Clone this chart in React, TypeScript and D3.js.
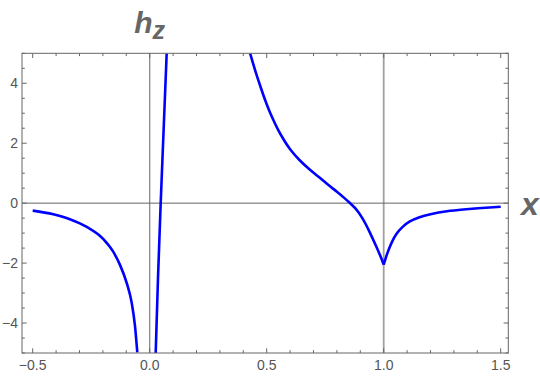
import React from "react";
import * as d3 from "d3";

// ---- data ----
const leftX = [-0.5, -0.412, -0.341, -0.269, -0.198, -0.156, -0.127, -0.098, -0.077, -0.063, -0.053];
const leftY = [-0.25, -0.373, -0.536, -0.795, -1.2, -1.62, -2.06, -2.67, -3.32, -4.09, -4.98];

const midX = [0.0256, 0.0355, 0.047, 0.0598, 0.0726];
const midY = [-5, -2.5, 0, 2.5, 5];

const rightAX = [0.429, 0.45, 0.475, 0.5, 0.525, 0.55, 0.575, 0.6, 0.64, 0.68, 0.72, 0.76, 0.8, 0.83, 0.855, 0.88, 0.91, 0.94, 0.965, 0.985, 1.0];
const rightAY = [5, 4.45, 3.85, 3.3, 2.83, 2.43, 2.09, 1.8, 1.44, 1.15, 0.89, 0.63, 0.38, 0.185, 0.01, -0.185, -0.515, -0.965, -1.39, -1.75, -2.05];

const rightBX = [1.0, 1.01, 1.02, 1.035, 1.055, 1.08, 1.11, 1.15, 1.2, 1.27, 1.34, 1.42, 1.5];
const rightBY = [-2.05, -1.8, -1.58, -1.3, -1.02, -0.8, -0.62, -0.48, -0.37, -0.27, -0.21, -0.16, -0.12];

const xMajor = [-0.5, 0, 0.5, 1, 1.5];
const xLabels = ["\u22120.5", "0.0", "0.5", "1.0", "1.5"];
const yMajor = [-4, -2, 0, 2, 4];
const yLabels = ["\u22124", "\u22122", "0", "2", "4"];
const vLines = [0, 1];

const W = 540;
const H = 376;
const plot = { left: 22, right: 508.3, top: 53.3, bottom: 353 };

export default function App() {
  const x = d3.scaleLinear().domain([-0.5457, 1.5325]).range([plot.left, plot.right]);
  const y = d3.scaleLinear().domain([-5, 5]).range([plot.bottom, plot.top]);

  const mkLine = (curve: d3.CurveFactory) =>
    d3
      .line<[number, number]>()
      .x((d) => x(d[0]))
      .y((d) => y(d[1]))
      .curve(curve);

  const seg = (xs: number[], ys: number[], curve: d3.CurveFactory) =>
    mkLine(curve)(xs.map((v, i) => [v, ys[i]] as [number, number])) || "";
  const segments = [
    seg(leftX, leftY, d3.curveMonotoneX),
    seg(midX, midY, d3.curveNatural),
    seg(rightAX, rightAY, d3.curveNatural),
    seg(rightBX, rightBY, d3.curveNatural),
  ];

  const xMinor = d3.range(-0.5, 1.5001, 0.1).filter((v) => !xMajor.some((m) => Math.abs(m - v) < 1e-6));
  const yMinor = d3.range(-5, 5.0001, 0.5).filter((v) => !yMajor.some((m) => Math.abs(m - v) < 1e-6));

  const frameColor = "#666";
  const majLen = 4.7;
  const minLen = 2.8;
  const labelFont = "'Liberation Sans', Arial, sans-serif";

  return (
    <svg
      width={W}
      height={H}
      viewBox={`0 0 ${W} ${H}`}
      style={{ position: "absolute", left: 0, top: 0, background: "#fff" }}
    >
      <defs>
        <clipPath id="plotclip">
          <rect x={plot.left} y={plot.top} width={plot.right - plot.left} height={plot.bottom - plot.top} />
        </clipPath>
      </defs>

      {/* vertical reference lines */}
      <line x1={x(vLines[0])} x2={x(vLines[0])} y1={plot.top} y2={plot.bottom} stroke="#888" strokeWidth={1.3} />
      <line x1={x(vLines[1])} x2={x(vLines[1])} y1={plot.top} y2={plot.bottom} stroke="#a0a0a0" strokeWidth={1.8} />
      {/* x axis */}
      <line x1={plot.left} x2={plot.right} y1={y(0)} y2={y(0)} stroke="#666" strokeWidth={1} />

      {/* curves */}
      <g clipPath="url(#plotclip)">
        {segments.map((d, i) => (
          <path key={i} d={d} fill="none" stroke="#0000ff" strokeWidth={2.6} strokeLinejoin="round" />
        ))}
      </g>

      {/* frame */}
      <rect
        x={plot.left}
        y={plot.top}
        width={plot.right - plot.left}
        height={plot.bottom - plot.top}
        fill="none"
        stroke={frameColor}
        strokeWidth={1}
      />

      {/* x ticks (bottom & top) */}
      {xMajor.map((v) => (
        <g key={"xM" + v}>
          <line x1={x(v)} x2={x(v)} y1={plot.bottom} y2={plot.bottom - majLen} stroke={frameColor} />
          <line x1={x(v)} x2={x(v)} y1={plot.top} y2={plot.top + majLen} stroke={frameColor} />
        </g>
      ))}
      {xMinor.map((v) => (
        <g key={"xm" + v}>
          <line x1={x(v)} x2={x(v)} y1={plot.bottom} y2={plot.bottom - minLen} stroke={frameColor} />
          <line x1={x(v)} x2={x(v)} y1={plot.top} y2={plot.top + minLen} stroke={frameColor} />
        </g>
      ))}
      {/* y ticks (left & right) */}
      {yMajor.map((v) => (
        <g key={"yM" + v}>
          <line x1={plot.left} x2={plot.left + majLen} y1={y(v)} y2={y(v)} stroke={frameColor} />
          <line x1={plot.right} x2={plot.right - majLen} y1={y(v)} y2={y(v)} stroke={frameColor} />
        </g>
      ))}
      {yMinor.map((v) => (
        <g key={"ym" + v}>
          <line x1={plot.left} x2={plot.left + minLen} y1={y(v)} y2={y(v)} stroke={frameColor} />
          <line x1={plot.right} x2={plot.right - minLen} y1={y(v)} y2={y(v)} stroke={frameColor} />
        </g>
      ))}

      {/* tick labels */}
      {xMajor.map((v, i) => (
        <text
          key={"xl" + v}
          x={x(v)}
          y={370}
          textAnchor="middle"
          fontFamily={labelFont}
          fontSize={14}
          fill="#555"
        >
          {xLabels[i]}
        </text>
      ))}
      {yMajor.map((v, i) => (
        <text
          key={"yl" + v}
          x={plot.left - 4}
          y={y(v)}
          dy="0.36em"
          textAnchor="end"
          fontFamily={labelFont}
          fontSize={14}
          fill="#555"
        >
          {yLabels[i]}
        </text>
      ))}

      {/* axis labels */}
      <text
        x={x(0)}
        y={33.3}
        textAnchor="middle"
        fontFamily={labelFont}
        fontStyle="italic"
        fontWeight="bold"
        fill="#666"
      >
        <tspan fontSize={30}>h</tspan>
        <tspan fontSize={25} dy={6}>z</tspan>
      </text>
      <text
        x={521}
        y={215}
        fontFamily={labelFont}
        fontStyle="italic"
        fontWeight="bold"
        fontSize={32}
        fill="#666"
      >
        x
      </text>
    </svg>
  );
}
